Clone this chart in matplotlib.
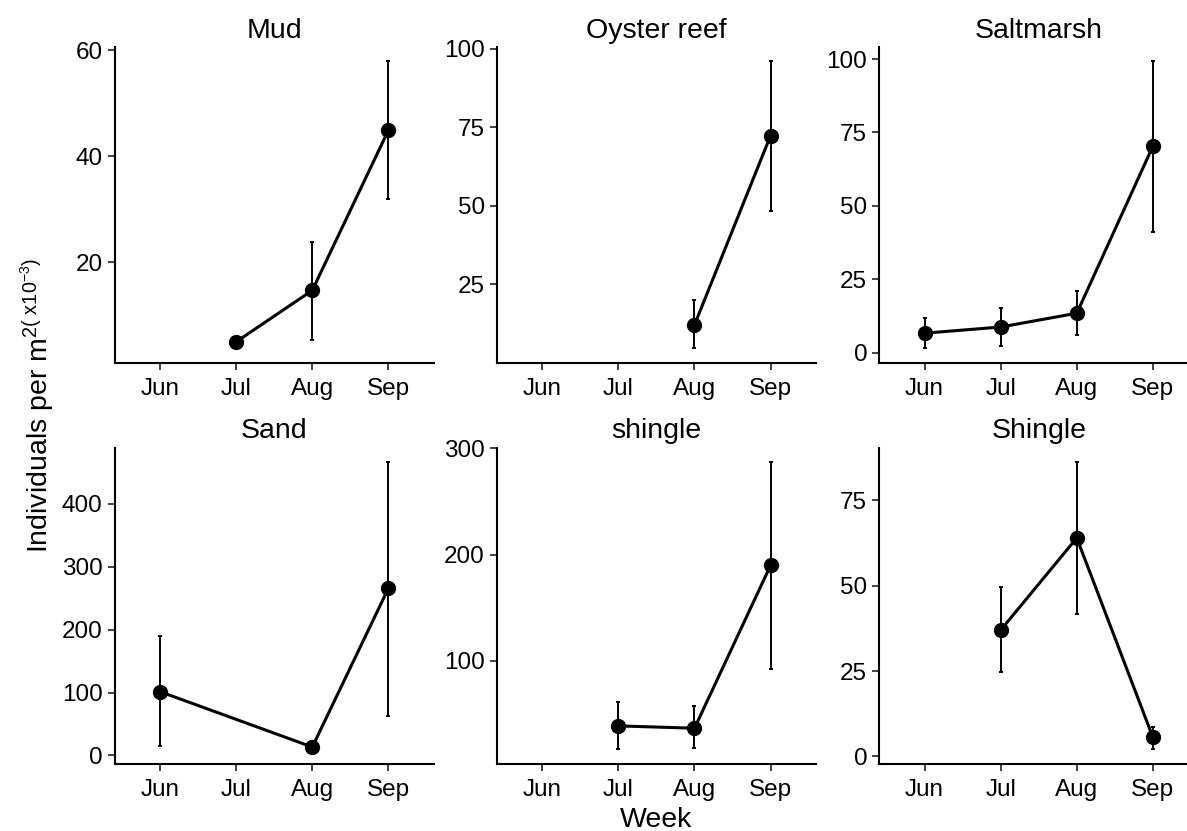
import numpy as np
import matplotlib
matplotlib.use("Agg")
import matplotlib.pyplot as plt

plt.rcParams['font.family'] = ['Liberation Sans', 'DejaVu Sans']
plt.rcParams['mathtext.fontset'] = 'custom'
plt.rcParams['mathtext.rm'] = 'Liberation Sans'
plt.rcParams['mathtext.it'] = 'Liberation Sans:italic'

months = ['Jun', 'Jul', 'Aug', 'Sep']

# mean density and interval per habitat (individuals per m2, x10^-3)
mud_weeks = ['Jul', 'Aug', 'Sep']
mud_mean = [5.0, 14.7, 44.9]
mud_lo = [3.8, 5.3, 31.9]
mud_hi = [5.9, 23.8, 58.0]

oyster_weeks = ['Aug', 'Sep']
oyster_mean = [12.1, 72.3]
oyster_lo = [4.7, 48.3]
oyster_hi = [19.9, 96.1]

salt_weeks = ['Jun', 'Jul', 'Aug', 'Sep']
salt_mean = [6.6, 8.7, 13.4, 70.3]
salt_lo = [1.5, 2.3, 5.9, 41.1]
salt_hi = [11.6, 15.3, 20.9, 99.4]

sand_weeks = ['Jun', 'Aug', 'Sep']
sand_mean = [101.3, 13.3, 265.6]
sand_lo = [14.9, 10.0, 62.4]
sand_hi = [189.3, 16.5, 466.7]

shingle_lc_weeks = ['Jul', 'Aug', 'Sep']
shingle_lc_mean = [38.6, 36.4, 189.8]
shingle_lc_lo = [16.7, 17.7, 91.8]
shingle_lc_hi = [60.8, 57.4, 287.4]

shingle_weeks = ['Jul', 'Aug', 'Sep']
shingle_mean = [37.0, 64.0, 5.6]
shingle_lo = [24.6, 41.7, 2.1]
shingle_hi = [49.5, 86.3, 8.6]

panels = [
    ('Mud', mud_weeks, mud_mean, mud_lo, mud_hi, [20, 40, 60]),
    ('Oyster reef', oyster_weeks, oyster_mean, oyster_lo, oyster_hi, [25, 50, 75, 100]),
    ('Saltmarsh', salt_weeks, salt_mean, salt_lo, salt_hi, [0, 25, 50, 75, 100]),
    ('Sand', sand_weeks, sand_mean, sand_lo, sand_hi, [0, 100, 200, 300, 400]),
    ('shingle', shingle_lc_weeks, shingle_lc_mean, shingle_lc_lo, shingle_lc_hi, [100, 200, 300]),
    ('Shingle', shingle_weeks, shingle_mean, shingle_lo, shingle_hi, [0, 25, 50, 75]),
]

W, H = 1187, 831
fig = plt.figure(figsize=(W / 100, H / 100), dpi=100)

col_left = [114.5, 496.7, 879.0]
panel_w = 319.5
row_top = [46.5, 447.5]
panel_h = 316.0

for i, (name, weeks, mean, lo, hi, yt) in enumerate(panels):
    r, c = divmod(i, 3)
    ax = fig.add_axes([col_left[c] / W, 1 - (row_top[r] + panel_h) / H,
                       panel_w / W, panel_h / H])
    x = np.array([months.index(w) for w in weeks])
    mean = np.array(mean)
    err = [mean - np.array(lo), np.array(hi) - mean]
    ax.errorbar(x, mean, yerr=err, fmt='none', ecolor='black',
                elinewidth=1.4, capsize=1.5, capthick=1.4, zorder=2)
    ax.plot(x, mean, '-o', color='black', lw=2.2, ms=10, zorder=3)
    ax.set_xlim(-0.6, 3.6)
    ax.set_xticks(range(len(months)))
    ax.set_xticklabels(months)
    ax.set_yticks(yt)
    for s in ['top', 'right']:
        ax.spines[s].set_visible(False)
    for s in ['left', 'bottom']:
        ax.spines[s].set_linewidth(1.5)
    ax.tick_params(axis='both', length=5, width=1.3, color='#333333',
                   labelsize=17.5, labelcolor='black', pad=3.5)
    ax.tick_params(axis='x', pad=6)
    fig.text((col_left[c] + panel_w / 2) / W, 1 - (row_top[r] - 16) / H,
             name, ha='center', va='center', fontsize=20.5)

fig.text(38 / W, 1 - 405 / H, r'Individuals per m$^{2(\ \mathrm{x}10^{-3})}$',
         rotation=90, ha='center', va='center', fontsize=20.5)
fig.text(656 / W, 1 - 820 / H, 'Week', ha='center', va='center', fontsize=20.5)

fig.savefig('out.png', dpi=100)
